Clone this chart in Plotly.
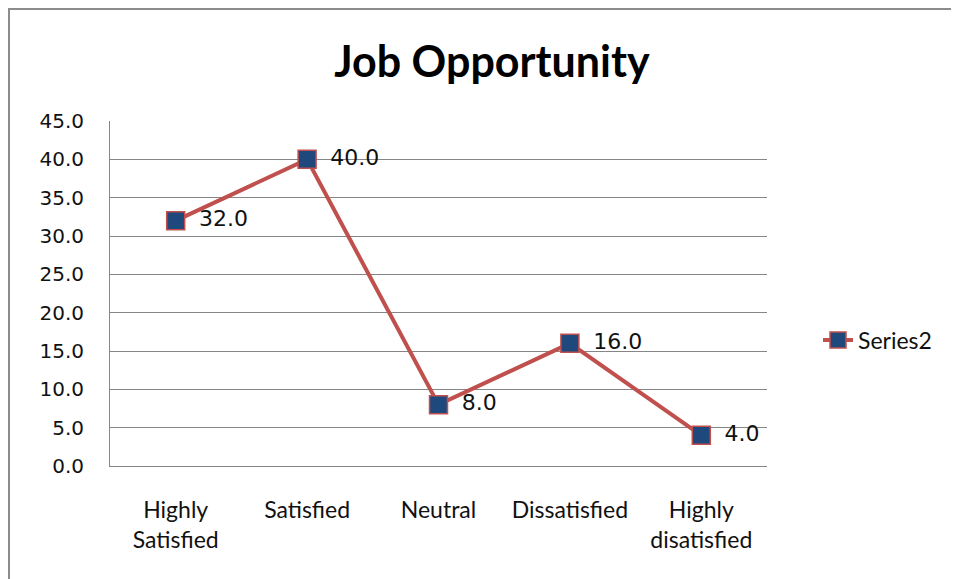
import plotly.graph_objects as go

categories = ["Highly<br>Satisfied", "Satisfied", "Neutral", "Dissatisfied", "Highly<br>disatisfied"]
values = [32.0, 40.0, 8.0, 16.0, 4.0]
series_name = "Series2"
title_text = "Job Opportunity"

OFF = 8  # page body margin
W, H = 959 - OFF, 579 - OFF
# plot area in page pixels: left 110, right 767, top 121, bottom 466
L = 110 - OFF
R = W - (767 - OFF)
T = 121 - OFF
B = H - (466 - OFF)
pw, ph = W - L - R, H - T - B


def px(xp):
    return (xp - OFF - L) / pw


def py(yp):
    return (H - B - (yp - OFF)) / ph


fig = go.Figure()
fig.add_trace(go.Scatter(
    x=categories, y=values, name=series_name,
    mode="lines+markers+text",
    line=dict(color="#C0504D", width=4),
    marker=dict(symbol="square", size=18, color="#1F497D",
                line=dict(color="#C0504D", width=1.5)),
    text=["\u2002" + f"{v:.1f}" for v in values],
    textposition="middle right",
    textfont=dict(family="DejaVu Sans", size=22, color="#111111"),
    cliponaxis=False,
))

fig.update_layout(
    width=W, height=H,
    margin=dict(l=L, r=R, t=T, b=B),
    paper_bgcolor="white", plot_bgcolor="white",
    title=dict(text=title_text, x=px(492), xref="paper", xanchor="center",
               y=1 - (62 - OFF) / H, yanchor="middle",
               font=dict(family="Lato", size=43, color="#000000", weight="bold")),
    showlegend=True,
    legend=dict(x=px(818), xanchor="left", y=py(340), yanchor="middle",
                font=dict(family="Lato", size=23, color="#111111"),
                bgcolor="rgba(0,0,0,0)"),
    xaxis=dict(type="category", range=[-0.5, 4.5], showgrid=False,
               showline=True, linecolor="#868686", linewidth=1,
               ticks="", ticklabelstandoff=23,
               tickfont=dict(family="Lato", size=23, color="#111111")),
    yaxis=dict(range=[0, 45], dtick=5, tickformat=".1f",
               showgrid=True, gridcolor="#868686", gridwidth=1,
               showline=True, linecolor="#868686", linewidth=1,
               zeroline=False, ticks="", ticklabelstandoff=21,
               tickfont=dict(family="DejaVu Sans", size=20, color="#111111")),
    shapes=[
        dict(type="line", xref="paper", yref="paper",
             x0=px(9), x1=px(9), y0=py(8), y1=py(700),
             line=dict(color="#8C8C8C", width=2)),
        dict(type="line", xref="paper", yref="paper",
             x0=px(8), x1=px(1100), y0=py(9), y1=py(9),
             line=dict(color="#8C8C8C", width=2)),
    ],
)

fig.write_html("out.html")
